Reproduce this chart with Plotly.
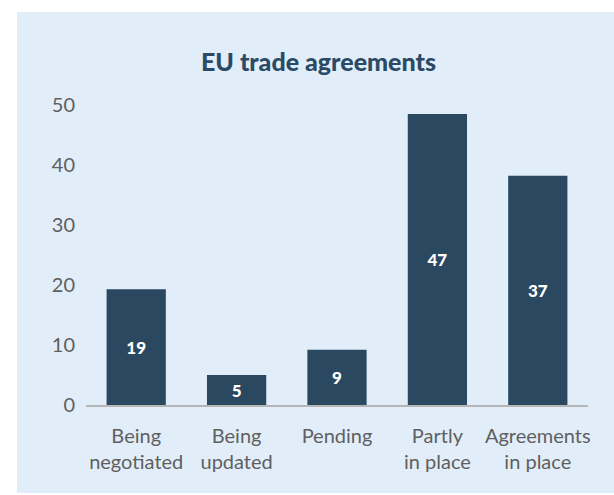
import plotly.graph_objects as go

categories = ["Being<br>negotiated", "Being<br>updated", "Pending", "Partly<br>in place", "Agreements<br>in place"]
bar_heights = [19.3, 5.0, 9.2, 48.5, 38.2]
bar_labels = ["19", "5", "9", "47", "37"]
y_ticks = [0, 10, 20, 30, 40, 50]

BG = "#e1eefa"
BAR = "#2b4861"
TITLE = "#2b4a66"
GREY = "#5f5f5f"
FONT = "Lato"

fig = go.Figure()
fig.add_trace(go.Bar(
    x=categories, y=bar_heights, text=bar_labels,
    textposition="inside", insidetextanchor="middle",
    textfont=dict(family=FONT, size=17, color="white", weight=900),
    marker=dict(color=BAR, line=dict(width=0)),
    hoverinfo="skip", cliponaxis=False,
))

L, R, T, B = 86, 26, 105, 90
W, H = 614, 495
pw, ph = W - L - R, H - T - B

fig.add_shape(type="rect", xref="paper", yref="paper", layer="below",
              x0=(17 - L) / pw, x1=(620 - L) / pw,
              y0=(H - B - 493) / ph, y1=(H - B - 12) / ph,
              fillcolor=BG, line=dict(width=0))

fig.update_layout(
    width=W, height=H,
    margin=dict(l=L, r=R, t=T, b=B, pad=0),
    paper_bgcolor="white", plot_bgcolor="rgba(0,0,0,0)",
    bargap=0.41, showlegend=False,
    font=dict(family=FONT, color=GREY, size=20),
    title=dict(text="EU trade agreements", font=dict(family=FONT, size=25, color=TITLE, weight=900),
               x=(318.5 - L) / pw, xref="paper", xanchor="center",
               y=1 - 62 / H, yref="container", yanchor="middle"),
    xaxis=dict(showline=True, linecolor="#b5b5b5", linewidth=2, showgrid=False,
               zeroline=False, ticks="", tickfont=dict(family=FONT, size=20, color=GREY),
               ticklabelstandoff=12, fixedrange=True),
    yaxis=dict(range=[0, 50], tickvals=y_ticks, showgrid=False, zeroline=False,
               showline=False, ticks="", tickfont=dict(family=FONT, size=20, color=GREY),
               ticklabelstandoff=10, fixedrange=True),
)

fig.write_html("out.html", config={"displayModeBar": False},
               post_script="document.body.style.margin='0';document.body.style.padding='0';")
